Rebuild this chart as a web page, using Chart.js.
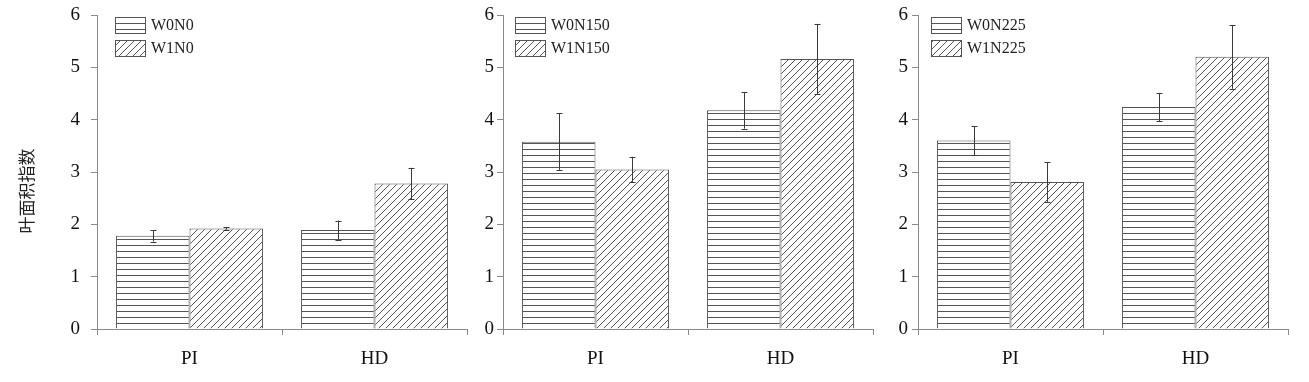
<!DOCTYPE html>
<html><head><meta charset="utf-8">
<script src="https://cdn.jsdelivr.net/npm/chart.js@4/dist/chart.umd.min.js"></script>
<style>
html,body{margin:0;padding:0;background:#fff;}
#wrap{position:relative;width:1309px;height:382px;overflow:hidden;}
canvas{position:absolute;top:0;}
</style></head><body>
<div id="wrap">
<canvas id="c1" width="470" height="382" style="left:0px"></canvas>
<canvas id="c2" width="420" height="382" style="left:470px"></canvas>
<canvas id="c3" width="419" height="382" style="left:890px"></canvas>
</div>
<script>
// ---- data ----
const categories = ['PI', 'HD'];
const yTicks = [0, 1, 2, 3, 4, 5, 6];
const yTitle = '叶面积指数';

const names1 = ['W0N0', 'W1N0'];
const w0n0 = [1.78, 1.89];
const w0n0Err = [0.11, 0.18];
const w1n0 = [1.92, 2.78];
const w1n0Err = [0.02, 0.30];

const names2 = ['W0N150', 'W1N150'];
const w0n150 = [3.58, 4.18];
const w0n150Err = [0.54, 0.35];
const w1n150 = [3.05, 5.16];
const w1n150Err = [0.24, 0.67];

const names3 = ['W0N225', 'W1N225'];
const w0n225 = [3.60, 4.24];
const w0n225Err = [0.28, 0.27];
const w1n225 = [2.81, 5.20];
const w1n225Err = [0.38, 0.61];

// ---- patterns ----
function hPattern() {
  const c = document.createElement('canvas'); c.width = 6; c.height = 6;
  const x = c.getContext('2d');
  x.fillStyle = '#fff'; x.fillRect(0, 0, 6, 6);
  x.fillStyle = '#555'; x.fillRect(0, 5, 6, 1);
  return x.createPattern(c, 'repeat');
}
function dPattern() {
  const s = 7;
  const c = document.createElement('canvas'); c.width = s; c.height = s;
  const x = c.getContext('2d');
  x.fillStyle = '#fff'; x.fillRect(0, 0, s, s);
  x.strokeStyle = '#555'; x.lineWidth = 1;
  x.beginPath();
  x.moveTo(0, s); x.lineTo(s, 0);
  x.moveTo(-1, 1); x.lineTo(1, -1);
  x.moveTo(s - 1, s + 1); x.lineTo(s + 1, s - 1);
  x.stroke();
  return x.createPattern(c, 'repeat');
}
const HP = hPattern(), DP = dPattern();

const errPlugin = {
  id: 'err',
  afterDatasetsDraw(chart) {
    const ctx = chart.ctx, ys = chart.scales.y;
    ctx.save();
    ctx.strokeStyle = '#3a3a3a'; ctx.lineWidth = 1;
    chart.data.datasets.forEach((ds, di) => {
      const meta = chart.getDatasetMeta(di);
      meta.data.forEach((bar, i) => {
        const v = ds.data[i], e = ds.err[i];
        const x = Math.round(bar.x) + 0.5;
        const t = ys.getPixelForValue(v + e), b = ys.getPixelForValue(v - e);
        ctx.beginPath();
        ctx.moveTo(x, t); ctx.lineTo(x, b);
        ctx.moveTo(x - 3, Math.round(t) + 0.5); ctx.lineTo(x + 3, Math.round(t) + 0.5);
        ctx.moveTo(x - 3, Math.round(b) + 0.5); ctx.lineTo(x + 3, Math.round(b) + 0.5);
        ctx.stroke();
      });
    });
    ctx.restore();
  }
};

const legendPlugin = {
  id: 'lg',
  afterDraw(chart, args, opts) {
    const ctx = chart.ctx, ca = chart.chartArea;
    ctx.save();
    chart.data.datasets.forEach((ds, i) => {
      const bx = ca.left + opts.dx, by = 17 + i * 23;
      ctx.fillStyle = ds.backgroundColor;
      ctx.fillRect(bx, by, 30, 16);
      ctx.strokeStyle = '#555'; ctx.lineWidth = 1;
      ctx.strokeRect(bx + 0.5, by + 0.5, 30, 16);
      ctx.fillStyle = '#222';
      ctx.font = '16px "Liberation Serif"';
      ctx.textBaseline = 'middle'; ctx.textAlign = 'left';
      ctx.fillText(ds.label, bx + 36, by + 9);
    });
    ctx.restore();
  }
};

const titlePlugin = {
  id: 'yt',
  afterDraw(chart, args, opts) {
    if (!opts.show) return;
    const ctx = chart.ctx;
    ctx.save();
    ctx.translate(27, 191);
    ctx.rotate(-Math.PI / 2);
    ctx.fillStyle = '#222';
    ctx.font = '17px "Noto Sans CJK SC"';
    ctx.textAlign = 'center'; ctx.textBaseline = 'middle';
    ctx.fillText(yTitle, 0, 0);
    ctx.restore();
  }
};

function makeChart(id, names, a, aErr, b, bErr, yWidth, padRight, tickPad, legDx, showTitle) {
  return new Chart(document.getElementById(id), {
    type: 'bar',
    data: {
      labels: categories,
      datasets: [
        { label: names[0], data: a, err: aErr, backgroundColor: HP, borderColor: '#555', borderWidth: 1 },
        { label: names[1], data: b, err: bErr, backgroundColor: DP, borderColor: '#555', borderWidth: 1 }
      ]
    },
    options: {
      responsive: false, animation: false, devicePixelRatio: 1,
      layout: { padding: { top: 15, right: padRight, left: 0, bottom: 0 } },
      datasets: { bar: { categoryPercentage: 0.795, barPercentage: 1.0 } },
      plugins: { legend: { display: false }, tooltip: { enabled: false },
        lg: { dx: legDx }, yt: { show: showTitle } },
      scales: {
        x: {
          grid: { offset: true, drawOnChartArea: false, drawTicks: true, tickLength: 6, color: '#8a8a8a' },
          border: { color: '#8a8a8a', width: 1 },
          ticks: { color: '#111', font: { family: 'Liberation Serif', size: 19 }, padding: 13 },
          afterFit(s) { s.height = 53; s.paddingLeft = 0; s.paddingRight = 0; }
        },
        y: {
          min: 0, max: 6,
          afterBuildTicks(s) { s.ticks = yTicks.map(v => ({ value: v })); },
          grid: { drawOnChartArea: false, drawTicks: true, tickLength: 6, color: '#8a8a8a' },
          border: { color: '#8a8a8a', width: 1 },
          ticks: { color: '#111', font: { family: 'Liberation Serif', size: 19 }, padding: tickPad },
          afterFit(s) { s.width = yWidth; s.paddingTop = 0; s.paddingBottom = 0; }
        }
      }
    },
    plugins: [errPlugin, legendPlugin, titlePlugin]
  });
}

makeChart('c1', names1, w0n0, w0n0Err, w1n0, w1n0Err, 97, 3, 11, 18, true);
makeChart('c2', names2, w0n150, w0n150Err, w1n150, w1n150Err, 33, 17, 3, 12, false);
makeChart('c3', names3, w0n225, w0n225Err, w1n225, w1n225Err, 28, 21, 4, 13, false);
</script>
</body></html>
